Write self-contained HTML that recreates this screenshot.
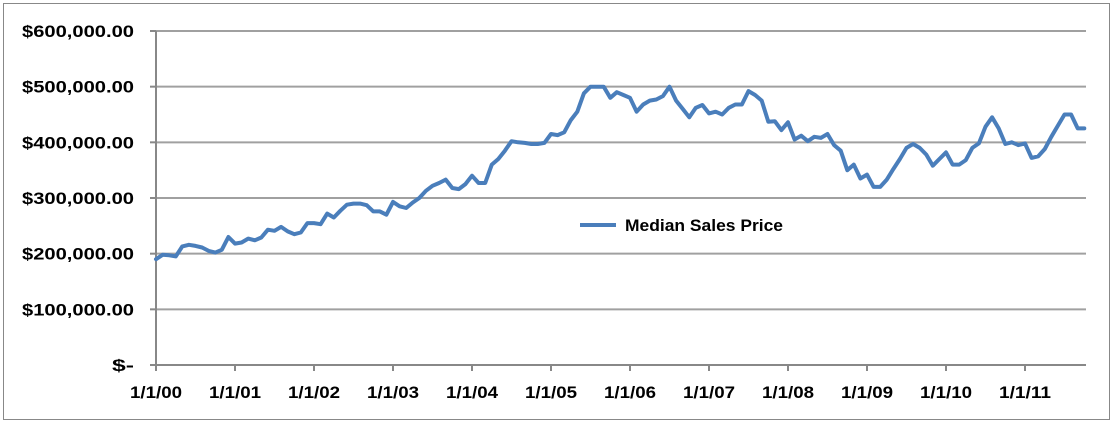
<!DOCTYPE html>
<html><head><meta charset="utf-8"><style>
body{margin:0;background:#fff;}
svg{display:block;font-family:"Liberation Sans",sans-serif;}
</style></head><body>
<svg id="chart" width="1118" height="425">
<rect x="3.5" y="3.5" width="1106" height="416" fill="#fff" stroke="#888"/>
<g id="grid"></g><g id="axes"></g><g id="series"></g>
<g>
<line x1="580" y1="225" x2="616" y2="225" stroke="#4a7ebb" stroke-width="4"/>
<text x="625" y="231" font-size="17" font-weight="bold" textLength="158" lengthAdjust="spacingAndGlyphs" fill="#000">Median Sales Price</text>
</g>
</svg>
<script>
const yTicks=[0,100000,200000,300000,400000,500000,600000];
const yTickLabels=["$-","$100,000.00","$200,000.00","$300,000.00","$400,000.00","$500,000.00","$600,000.00"];
const xTickLabels=["1/1/00","1/1/01","1/1/02","1/1/03","1/1/04","1/1/05","1/1/06","1/1/07","1/1/08","1/1/09","1/1/10","1/1/11"];
const prices=[
190,198,197,195,213,216,214,211,205,202,207,230,
218,220,227,224,229,243,241,248,240,235,238,255,
255,253,272,265,277,288,290,290,287,276,276,270,
293,285,282,292,300,313,322,327,333,318,316,325,
340,327,327,360,370,385,402,400,399,397,397,399,
415,413,418,440,455,488,500,500,500,480,490,485,
480,455,468,475,477,483,500,475,460,445,462,467,
452,455,450,462,468,468,492,485,475,437,438,422,
436,405,412,402,410,408,415,395,385,350,360,335,
342,320,320,333,352,370,390,397,390,378,358,370,
382,360,360,368,390,398,428,445,425,397,400,395,
398,372,375,388,410,430,450,450,425,425].map(v=>v*1000);
const NS="http://www.w3.org/2000/svg";
const X0=156,X1=1086,Y0=365,Y1=31,monthPx=79/12;
const xOf=i=>X0+i*monthPx;
const yOf=v=>Y0-(v/600000)*(Y0-Y1);
function mk(t,a,p){const e=document.createElementNS(NS,t);for(const k in a)e.setAttribute(k,a[k]);p.appendChild(e);return e;}
const grid=document.getElementById('grid'),axes=document.getElementById('axes'),series=document.getElementById('series');
yTicks.forEach((v,i)=>{
  const y=yOf(v);
  if(v>0){const g=mk('line',{x1:X0,x2:X1,y1:y,y2:y,stroke:'#a0a0a0','stroke-width':2},grid);
  
  }
  const t=mk('line',{x1:X0-6,x2:X0,y1:y,y2:y,stroke:'#888','stroke-width':2},axes);
  
  
  const attrs={x:134,y:y+6,'text-anchor':'end','font-size':'17','font-weight':'bold'};
  if(v>0){attrs.textLength=112;attrs.lengthAdjust='spacingAndGlyphs';}
  else{attrs.textLength=22;attrs.lengthAdjust='spacingAndGlyphs';}
  const l=mk('text',attrs,axes);
  l.textContent=yTickLabels[i];
  
  
});
const ya=mk('line',{x1:X0,x2:X0,y1:Y1,y2:Y0,stroke:'#888','stroke-width':2},axes);


const xa=mk('line',{x1:X0,x2:X1,y1:Y0,y2:Y0,stroke:'#888','stroke-width':2},axes);


xTickLabels.forEach((s,i)=>{
  const x=xOf(i*12);
  const t=mk('line',{x1:x,x2:x,y1:Y0,y2:Y0+6,stroke:'#888','stroke-width':2},axes);
  
  
  const l=mk('text',{x:x,y:398,'text-anchor':'middle','font-size':'17','font-weight':'bold',textLength:52,lengthAdjust:'spacingAndGlyphs'},axes);
  l.textContent=s;
  
  
});
const pts=prices.map((v,i)=>xOf(i).toFixed(1)+','+yOf(v).toFixed(1)).join(' ');
const pl=mk('polyline',{points:pts,fill:'none',stroke:'#4a7ebb','stroke-width':4,'stroke-linejoin':'round','stroke-linecap':'round'},series);


</script>
</body></html>
